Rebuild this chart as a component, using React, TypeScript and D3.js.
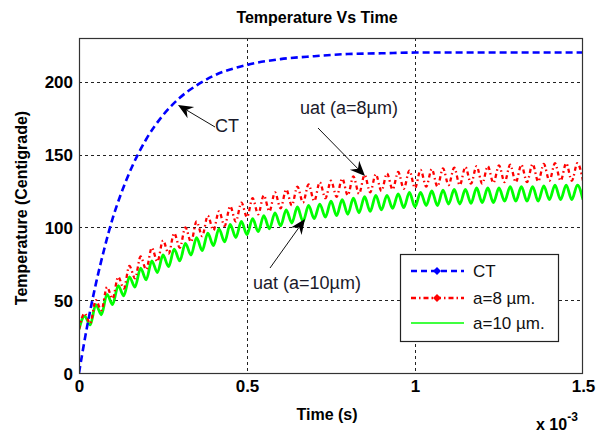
import React, { useEffect, useRef } from 'react';
import * as d3 from 'd3';

// ---------------- data ----------------
const X_TICKS = [0, 0.5e-3, 1e-3, 1.5e-3];
const X_TICK_LABELS = ['0', '0.5', '1', '1.5'];
const Y_TICKS = [0, 50, 100, 150, 200];

// CT curve (time in ms, temperature in °C)
const CT_TIME_MS = [0, 0.025, 0.05, 0.075, 0.1, 0.125, 0.15, 0.2, 0.25, 0.3, 0.35, 0.4, 0.5, 0.6, 0.7, 0.8, 0.9, 1.0, 1.2, 1.5];
const CT_TEMP = [0, 33, 61, 85, 106, 123, 137.5, 160.5, 177, 189, 197.5, 204, 211.5, 215.5, 217.5, 219, 219.5, 220, 220, 220];

// oscillating curves, sampled every 1/60 ms (alternating trough / crest)
const SAMPLE_STEP_MS = 1 / 60;
const A8_TEMP = [
  30, 41, 34, 50, 43, 59, 51, 66, 58, 73.5, 65, 80, 71, 86, 76.5, 91, 82, 96, 86, 100,
  90, 104, 94, 108, 98, 111, 101, 114.5, 104, 117, 107, 120, 109, 122, 111, 124, 113, 126, 115, 128,
  117, 129.5, 118, 131, 120, 132, 121, 133.5, 122, 135, 123, 136, 124, 136.5, 125, 137, 126, 138, 126.5, 139,
  127, 139.5, 128, 140, 128, 140.5, 129, 141, 129, 141.5, 130, 142, 130, 142, 130.5, 142.5, 131, 143, 131, 143,
  131, 143.5, 131.5, 143.5, 132, 144, 132, 144, 132, 144, 132,
];
const A10_TEMP = [
  30, 39, 33, 47, 40, 54, 47, 60, 53, 66, 59, 72, 64, 77, 69, 81, 73, 85, 77, 89,
  81, 93, 84, 96, 87.5, 99, 90, 102, 93, 104, 95, 106, 97, 108, 99, 110, 101, 112, 103, 114,
  104, 115, 106, 116, 107, 118, 108, 119, 109, 120, 110, 121, 111, 122, 112, 122, 113, 123, 113.5, 124,
  114, 124, 115, 125, 115, 125.5, 116, 126, 116, 126, 116.5, 127, 117, 127, 117, 127, 118, 128, 118, 128,
  118, 128, 118, 128.5, 119, 129, 119, 129, 119, 129, 119,
];

const LEGEND_LABELS = ['CT', 'a=8 \u00b5m.', 'a=10 \u00b5m.'];
const SERIES_COLORS = ['#0000ff', '#ff0000', '#00ff00'];

const ANNOTATIONS = [
  { text: 'CT', tx: 215, ty: 132, from: [215, 127], to: [178, 105] },
  { text: 'uat (a=8\u00b5m)', tx: 300, ty: 114, from: [318, 128], to: [365, 176] },
  { text: 'uat (a=10\u00b5m)', tx: 253, ty: 289, from: [270, 268], to: [305, 219] },
];

const TITLE = 'Temperature Vs Time';
const X_LABEL = 'Time (s)';
const Y_LABEL = 'Temperature (Centigrade)';

export default function App() {
  const ref = useRef<SVGSVGElement>(null);

  useEffect(() => {
    const W = 603, H = 434;
    const L = 79, R = 583, T = 38, B = 373;
    const svg = d3.select(ref.current);
    svg.selectAll('*').remove();
    svg.append('rect').attr('width', W).attr('height', H).attr('fill', '#fff');

    const x = d3.scaleLinear().domain([0, 1.5e-3]).range([L, R]);
    const y = d3.scaleLinear().domain([0, 230]).range([B, T]);

    const tickFont = "'Liberation Sans Narrow', 'Arial Narrow', 'Liberation Sans', Arial, sans-serif";
    const textFont = "'Liberation Sans', Arial, sans-serif";

    // grid
    const grid = svg.append('g').attr('stroke', '#222').attr('stroke-width', 1).attr('stroke-dasharray', '3,3');
    X_TICKS.slice(1, -1).forEach((v) => {
      grid.append('line').attr('x1', Math.round(x(v)) + 0.5).attr('x2', Math.round(x(v)) + 0.5).attr('y1', T).attr('y2', B);
    });
    Y_TICKS.slice(1).forEach((v) => {
      grid.append('line').attr('x1', L).attr('x2', R).attr('y1', Math.round(y(v)) + 0.5).attr('y2', Math.round(y(v)) + 0.5);
    });

    // clip
    svg.append('defs').append('clipPath').attr('id', 'plotclip')
      .append('rect').attr('x', L).attr('y', T).attr('width', R - L).attr('height', B - T);

    const line = d3.line<[number, number]>()
      .x((d) => x(d[0]))
      .y((d) => y(d[1]))
      .curve(d3.curveMonotoneX);

    const ctData: [number, number][] = CT_TIME_MS.map((t, i) => [t * 1e-3, CT_TEMP[i]]);
    const a8Data: [number, number][] = A8_TEMP.map((v, i) => [i * SAMPLE_STEP_MS * 1e-3, v]);
    const a10Data: [number, number][] = A10_TEMP.map((v, i) => [i * SAMPLE_STEP_MS * 1e-3, v]);

    const plot = svg.append('g').attr('clip-path', 'url(#plotclip)');
    plot.append('path').attr('d', line(a10Data)).attr('fill', 'none')
      .attr('stroke', SERIES_COLORS[2]).attr('stroke-width', 2.8);
    plot.append('path').attr('d', line(a8Data)).attr('fill', 'none')
      .attr('stroke', SERIES_COLORS[1]).attr('stroke-width', 2.3).attr('stroke-dasharray', '4,3,1.5,3');
    plot.append('path').attr('d', line(ctData)).attr('fill', 'none')
      .attr('stroke', SERIES_COLORS[0]).attr('stroke-width', 2.6).attr('stroke-dasharray', '7,4');

    // box
    svg.append('rect').attr('x', L + 0.5).attr('y', T + 0.5).attr('width', R - L - 1).attr('height', B - T)
      .attr('fill', 'none').attr('stroke', '#333').attr('stroke-width', 1.2);

    // axes
    const yAxis = svg.append('g').attr('transform', `translate(${L},0)`)
      .call(d3.axisLeft(y).tickValues(Y_TICKS).tickSize(0).tickPadding(6).tickFormat(d3.format('d')));
    yAxis.select('.domain').remove();
    yAxis.selectAll('text').attr('font-family', tickFont).attr('font-weight', 'bold')
      .attr('font-size', 17).attr('fill', '#000').attr('dy', '0.36em');

    const xAxis = svg.append('g').attr('transform', `translate(0,${B})`)
      .call(d3.axisBottom(x).tickValues(X_TICKS).tickSize(0).tickPadding(7)
        .tickFormat((_d, i) => X_TICK_LABELS[i]));
    xAxis.select('.domain').remove();
    xAxis.selectAll('text').attr('font-family', tickFont).attr('font-weight', 'bold')
      .attr('font-size', 17).attr('fill', '#000');

    // titles
    svg.append('text').attr('x', 317).attr('y', 23).attr('text-anchor', 'middle')
      .attr('font-family', tickFont).attr('font-weight', 'bold').attr('font-size', 16)
      .text(TITLE);
    svg.append('text').attr('x', 327).attr('y', 420).attr('text-anchor', 'middle')
      .attr('font-family', tickFont).attr('font-weight', 'bold').attr('font-size', 16)
      .text(X_LABEL);
    svg.append('text').attr('transform', 'translate(27,208) rotate(-90)').attr('text-anchor', 'middle')
      .attr('font-family', tickFont).attr('font-weight', 'bold').attr('font-size', 16)
      .text(Y_LABEL);
    const exp = svg.append('text').attr('x', 536).attr('y', 430)
      .attr('font-family', tickFont).attr('font-weight', 'bold').attr('font-size', 16);
    exp.append('tspan').text('x 10');
    exp.append('tspan').attr('dy', -9).attr('font-size', 12).text('-3');

    // legend
    const lg = svg.append('g');
    lg.append('rect').attr('x', 400.5).attr('y', 254.5).attr('width', 158).attr('height', 87)
      .attr('fill', '#fff').attr('stroke', '#222').attr('stroke-width', 1.2);
    const rows = [271, 298, 323];
    const styles = [
      { dash: '6,4', w: 2.6, marker: true },
      { dash: '5,3,1.5,3', w: 2.4, marker: true },
      { dash: null, w: 1.3, marker: false },
    ];
    rows.forEach((ry, i) => {
      const ln = lg.append('line').attr('x1', 411).attr('x2', 464).attr('y1', ry).attr('y2', ry)
        .attr('stroke', SERIES_COLORS[i]).attr('stroke-width', styles[i].w);
      if (styles[i].dash) ln.attr('stroke-dasharray', styles[i].dash);
      if (styles[i].marker) {
        const s = 4;
        lg.append('path').attr('d', `M${437},${ry - s}L${437 + s},${ry}L${437},${ry + s}L${437 - s},${ry}Z`)
          .attr('fill', SERIES_COLORS[i]);
      }
      lg.append('text').attr('x', 473).attr('y', ry + 6).attr('font-family', textFont)
        .attr('font-size', 17).attr('fill', '#111').text(LEGEND_LABELS[i]);
    });

    // annotations
    const ann = svg.append('g');
    ANNOTATIONS.forEach((a) => {
      const [x0, y0] = a.from;
      const [x1, y1] = a.to;
      const dx = x1 - x0, dy = y1 - y0;
      const len = Math.hypot(dx, dy);
      const ux = dx / len, uy = dy / len;
      const px = -uy, py = ux;
      const hl = 15, hw = 6.5, notch = 10;
      ann.append('line').attr('x1', x0).attr('y1', y0)
        .attr('x2', x1 - ux * notch).attr('y2', y1 - uy * notch)
        .attr('stroke', '#111').attr('stroke-width', 1);
      const bx = x1 - ux * hl, by = y1 - uy * hl;
      const nx = x1 - ux * notch, ny = y1 - uy * notch;
      ann.append('path')
        .attr('d', `M${x1},${y1}L${bx + px * hw},${by + py * hw}L${nx},${ny}L${bx - px * hw},${by - py * hw}Z`)
        .attr('fill', '#000');
      ann.append('text').attr('x', a.tx).attr('y', a.ty).attr('font-family', textFont)
        .attr('font-size', 18).attr('fill', '#1a1a2a').text(a.text);
    });
  }, []);

  return (
    <svg
      ref={ref}
      width={603}
      height={434}
      style={{ position: 'absolute', left: 0, top: 0, display: 'block' }}
    />
  );
}
